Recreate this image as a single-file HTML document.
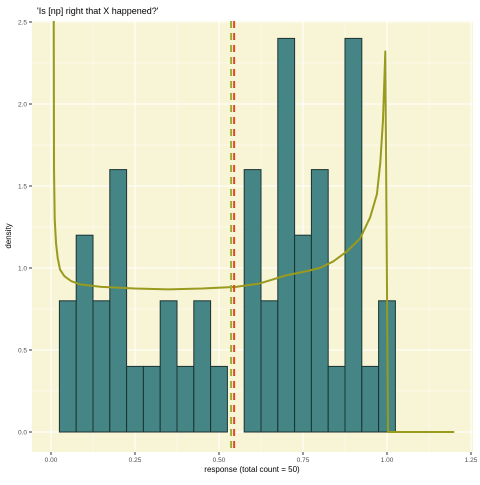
<!DOCTYPE html>
<html><head><meta charset="utf-8"><style>
body{margin:0;background:#fff;font-family:"Liberation Sans",sans-serif}
</style></head><body>
<svg id="c" width="480" height="480" xmlns="http://www.w3.org/2000/svg">
<text x="37" y="14" font-size="9" fill="#000">'Is [np] right that X happened?'</text>
<rect x="32" y="21" width="441" height="431" fill="#f8f4d6"/>
<g id="grid"></g><g id="bars"></g><g id="lines"></g><g id="axes"></g>
<text x="252" y="472" font-size="8" text-anchor="middle" fill="#000">response (total count = 50)</text>
<text transform="translate(11,236) rotate(-90)" font-size="8" text-anchor="middle" fill="#000">density</text>
</svg>
<script>
const binCenters=[0.05,0.1,0.15,0.2,0.25,0.3,0.35,0.4,0.45,0.5,0.55,0.6,0.65,0.7,0.75,0.8,0.85,0.9,0.95,1.0];
const densities=[0.8,1.2,0.8,1.6,0.4,0.4,0.8,0.4,0.8,0.4,0,1.6,0.8,2.4,1.2,1.6,0.4,2.4,0.4,0.8];
const curveX=[0.008,0.009,0.011,0.015,0.02,0.027,0.04,0.06,0.086,0.15,0.25,0.35,0.45,0.55,0.62,0.7,0.76,0.8,0.84,0.88,0.92,0.95,0.97,0.98,0.988,0.995,1.003,1.2];
const curveY=[2.7,1.6,1.3,1.15,1.06,0.99,0.95,0.92,0.9,0.885,0.875,0.87,0.875,0.885,0.905,0.955,0.98,1.0,1.04,1.1,1.18,1.31,1.45,1.64,1.9,2.32,0,0];
const meanA=0.536, meanB=0.545;
const xTicks=[0,0.25,0.5,0.75,1.0,1.25], xLabels=["0.00","0.25","0.50","0.75","1.00","1.25"];
const yTicks=[0,0.5,1,1.5,2,2.5], yLabels=["0.0","0.5","1.0","1.5","2.0","2.5"];
const binW=0.05;
const X=v=>51+v*336, Y=v=>432-v*164;
const NS="http://www.w3.org/2000/svg";
function mk(p,t,a){const e=document.createElementNS(NS,t);for(const k in a)e.setAttribute(k,a[k]);document.getElementById(p).appendChild(e);return e;}
for(let i=0;i<=10;i++){const v=i*0.125;const e=mk('grid','line',{x1:X(v),x2:X(v),y1:21,y2:452,stroke:'#fff','stroke-width':i%2?0.5:1});

}
for(let i=-1;i<=10;i++){const v=i*0.25;if(Y(v)>452||Y(v)<21)continue;const e=mk('grid','line',{x1:32,x2:473,y1:Y(v),y2:Y(v),stroke:'#fff','stroke-width':(i%2!==0)?0.5:1});

}
binCenters.forEach((c,i)=>{const h=densities[i];const e=mk('bars','rect',{x:X(c-binW/2),y:Y(h),width:X(c+binW/2)-X(c-binW/2),height:Y(0)-Y(h),fill:'#458585',stroke:'#1c3232','stroke-width':1});

});
const clip=mk('lines','clipPath',{id:'cl'});mk('cl','rect',{x:32,y:21,width:441,height:431});
const pts=curveX.map((x,i)=>X(x)+','+Y(curveY[i])).join(' ');
const pl=mk('lines','polyline',{points:pts,fill:'none',stroke:'#9a9a1e','stroke-width':2,'stroke-linejoin':'round','clip-path':'url(#cl)'});


const la=mk('lines','line',{x1:X(meanA),x2:X(meanA),y1:21,y2:452,stroke:'#9ab030','stroke-width':2,'stroke-dasharray':'7,5'});


const lb=mk('lines','line',{x1:X(meanB),x2:X(meanB),y1:21,y2:452,stroke:'#e8442a','stroke-width':2,'stroke-dasharray':'7,5'});


xTicks.forEach((v,i)=>{mk('axes','line',{x1:X(v),x2:X(v),y1:452,y2:455,stroke:'#333'});
const t=mk('axes','text',{x:X(v),y:462,'font-size':6.5,'text-anchor':'middle',fill:'#4d4d4d'});t.textContent=xLabels[i];

});
yTicks.forEach((v,i)=>{mk('axes','line',{x1:29,x2:32,y1:Y(v),y2:Y(v),stroke:'#333'});
const t=mk('axes','text',{x:27,y:Y(v)+2.5,'font-size':6.5,'text-anchor':'end',fill:'#4d4d4d'});t.textContent=yLabels[i];

});
</script>
</body></html>
